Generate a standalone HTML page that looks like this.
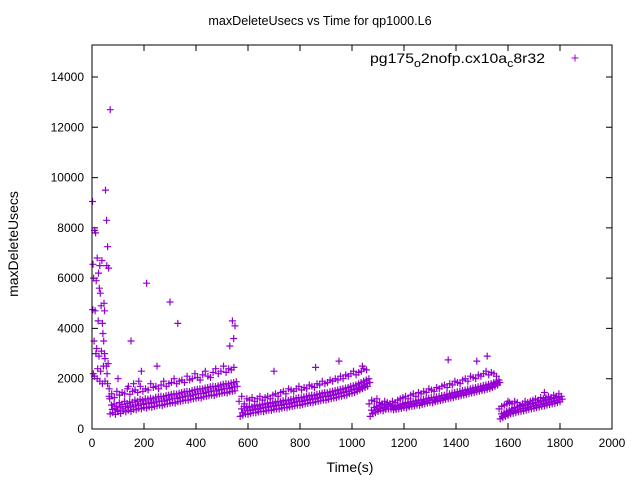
<!DOCTYPE html>
<html><head><meta charset="utf-8"><style>
body{margin:0;background:#fff}
svg text{font-family:"Liberation Sans",sans-serif;font-size:12px;fill:#000}
</style></head><body>
<svg id="chart" width="640" height="480">
<rect width="640" height="480" fill="#fff"/>
<text x="320" y="25" text-anchor="middle" style="font-size:12.6px">maxDeleteUsecs vs Time for qp1000.L6</text>
<text x="350" y="472" text-anchor="middle" style="font-size:14px">Time(s)</text>
<text transform="translate(18,244) rotate(-90)" text-anchor="middle" style="font-size:14px">maxDeleteUsecs</text>
<g id="axes"></g>
<g id="marks"></g>
<rect x="92" y="45" width="520" height="384" fill="none" stroke="#000" stroke-width="1"/>
<g>
<text x="370" y="63" style="font-size:14px" textLength="175" lengthAdjust="spacingAndGlyphs">pg175<tspan dy="4" style="font-size:11px">o</tspan><tspan dy="-4">2nofp.cx10a</tspan><tspan dy="4" style="font-size:11px">c</tspan><tspan dy="-4">8r32</tspan></text>
<path d="M571.5,58h7M575,54.5v7" stroke="#9400d3" stroke-width="1"/>
</g>
</svg>
<script>
const xTicks=[0,200,400,600,800,1000,1200,1400,1600,1800,2000];
const yTicks=[0,2000,4000,6000,8000,10000,12000,14000];
const seg1T=[];for(let t=70;t<=550;t+=10)seg1T.push(t);
const seg2T=[];for(let t=570;t<=1060;t+=10)seg2T.push(t);
const seg3T=[];for(let t=1070;t<=1560;t+=10)seg3T.push(t);
const seg4T=[];for(let t=1570;t<=1800;t+=10)seg4T.push(t);
const seg1Lo=[600,650,580,700,620,720,680,750,700,780,760,820,800,850,830,880,860,900,920,950,930,980,1000,1020,1050,1030,1080,1100,1120,1150,1140,1180,1200,1220,1250,1230,1280,1300,1320,1350,1330,1380,1400,1420,1450,1430,1480,1500,1520];
const seg1Q=[780,820,740,870,800,900,850,910,880,960,930,1000,980,1020,1010,1050,1030,1080,1100,1120,1110,1150,1180,1200,1220,1210,1250,1270,1300,1320,1310,1350,1380,1400,1420,1410,1450,1480,1500,1520,1510,1550,1570,1600,1620,1610,1650,1680,1700];
const seg1Mid=[950,1000,900,1050,980,1100,1020,1080,1060,1150,1100,1180,1150,1200,1190,1230,1200,1260,1280,1300,1290,1330,1350,1380,1400,1390,1420,1450,1480,1500,1490,1530,1560,1580,1600,1590,1630,1650,1680,1700,1690,1720,1750,1780,1800,1790,1830,1850,1880];
const seg1Hi=[1300,1400,1250,1500,1350,1450,1400,1600,1380,1500,1550,1450,1700,1500,1600,1550,1800,1650,1700,1600,1750,1900,1700,1800,1850,2000,1800,1900,1950,1850,2100,1950,2000,2200,2050,1950,2150,2300,2100,2050,2250,2400,2200,2300,2500,2250,2400,2350,2450];
const seg2Lo=[500,550,600,580,620,650,640,680,700,690,720,750,740,780,800,790,830,850,840,880,900,920,950,940,980,1000,1020,1050,1040,1080,1100,1120,1150,1140,1180,1200,1230,1250,1280,1300,1330,1350,1400,1420,1450,1500,1550,1600,1650,1700];
const seg2Q=[650,720,730,740,750,800,780,820,840,850,870,900,890,930,950,940,980,1000,990,1030,1050,1080,1100,1090,1130,1150,1170,1200,1190,1230,1250,1280,1300,1290,1330,1350,1380,1400,1430,1450,1480,1500,1550,1570,1600,1650,1700,1750,1800,1850];
const seg2Mid=[800,900,850,900,880,950,920,960,980,1000,1020,1050,1030,1080,1100,1090,1130,1150,1140,1180,1200,1230,1250,1240,1280,1300,1330,1350,1340,1380,1400,1430,1450,1440,1480,1500,1530,1550,1580,1600,1630,1650,1700,1720,1750,1800,1850,1900,1950,2000];
const seg2Hi=[1100,1300,1000,1200,1150,1250,1100,1200,1300,1150,1250,1300,1200,1350,1400,1300,1450,1500,1400,1600,1550,1500,1600,1700,1550,1650,1600,1750,1700,1650,1800,1750,1900,1800,1850,1950,1900,2000,1950,2100,2000,2150,2100,2200,2300,2150,2250,2300,2400,2350];
const seg3Lo=[500,600,650,700,750,720,780,800,790,760,780,800,820,850,840,880,900,920,950,940,980,1000,1030,1050,1040,1080,1100,1130,1150,1180,1200,1230,1250,1280,1300,1330,1350,1380,1400,1430,1450,1480,1500,1530,1550,1580,1600,1650,1700,1750];
const seg3Q=[620,720,780,820,870,840,880,900,870,830,870,890,910,950,930,980,1000,1020,1050,1040,1080,1100,1130,1150,1140,1180,1200,1230,1250,1280,1300,1330,1350,1380,1400,1430,1450,1480,1500,1530,1550,1580,1600,1630,1650,1680,1700,1750,1800,1850];
const seg3Mid=[750,850,900,950,1000,950,980,1000,950,900,950,980,1000,1050,1020,1080,1100,1120,1150,1140,1180,1200,1230,1250,1240,1280,1300,1330,1350,1380,1400,1430,1450,1480,1500,1530,1550,1580,1600,1630,1650,1680,1700,1730,1750,1780,1800,1850,1900,1950];
const seg3Hi=[1000,1150,1100,1200,1050,1000,1100,1050,1000,1100,1050,1150,1200,1250,1300,1200,1350,1400,1300,1450,1400,1500,1450,1600,1550,1500,1650,1600,1700,1750,1650,1800,1750,1900,1850,1800,1950,2000,1900,2100,2050,2000,2150,2100,2200,2300,2150,2250,2200,2100];
const seg4Lo=[400,450,500,550,600,620,650,680,700,720,750,780,800,820,850,870,900,920,950,970,1000,1020,1050,1080];
const seg4Q=[500,550,600,650,700,730,760,790,810,830,860,890,910,930,960,980,1010,1030,1060,1080,1110,1130,1160,1190];
const seg4Mid=[600,650,700,750,800,850,880,900,920,950,980,1000,1020,1050,1070,1100,1120,1150,1170,1200,1220,1250,1270,1300];
const seg4Hi=[800,900,950,1000,1050,1000,1100,1050,950,1000,1100,1050,1100,1150,1200,1150,1250,1200,1250,1300,1250,1350,1300,1400];
const outT=[2,10,14,4,6,3,12,8,15,20,25,30,32,35,40,42,45,48,50,55,58,62,52,56,60,64,57,46,38,5,10,20,30,40,50,60,22,33,44,66,68,70,18,27,36,24,48,28,16,150,210,300,330,540,550,545,530,100,190,250,700,860,950,1040,1370,1480,1520,1740,1600,180,140,160];
const outV=[9050,7900,7800,6550,6000,4750,4700,3500,3000,6800,6200,6500,5400,4900,4200,3800,3500,3000,2800,2500,2200,2600,9500,8300,7250,6400,6500,5000,6700,2200,2100,2000,1900,1800,1900,1800,2400,2300,2500,1600,1200,12700,3200,2900,3100,4300,4700,5600,5900,3500,5800,5050,4200,4300,4100,3600,3300,2000,2300,2500,2300,2450,2700,2500,2750,2700,2900,1450,1100,1900,1700,1800];

const X0=92,X1=612,Y0=429,Y1=45;
const xs=t=>X0+t*(X1-X0)/2000;
const ys=v=>Y0-v*(Y0-77)/14000;
const NS="http://www.w3.org/2000/svg";
const axes=document.getElementById('axes');
xTicks.forEach(t=>{
  const x=xs(t);
  const p=document.createElementNS(NS,'path');
  p.setAttribute('d',`M${x},${Y0}v-6M${x},${Y1}v6`);
  p.setAttribute('stroke','#000');
  
  
  axes.appendChild(p);
  const tx=document.createElementNS(NS,'text');
  tx.setAttribute('x',x);tx.setAttribute('y',Y0+18);tx.setAttribute('text-anchor','middle');
  tx.textContent=t;
  
  
  axes.appendChild(tx);
});
yTicks.forEach(v=>{
  const y=ys(v);
  const p=document.createElementNS(NS,'path');
  p.setAttribute('d',`M${X0},${y}h6M${X1},${y}h-6`);
  p.setAttribute('stroke','#000');
  
  
  axes.appendChild(p);
  const tx=document.createElementNS(NS,'text');
  tx.setAttribute('x',X0-8);tx.setAttribute('y',y+4);tx.setAttribute('text-anchor','end');
  tx.textContent=v;
  
  
  axes.appendChild(tx);
});
let d='';
function add(T,V,dx){for(let i=0;i<T.length&&i<V.length;i++){const x=xs(T[i])+dx,y=ys(V[i]);d+=`M${(x-3.5).toFixed(1)},${y.toFixed(1)}h7M${x.toFixed(1)},${(y-3.5).toFixed(1)}v7`;}}
[[seg1T,seg1Lo,0],[seg1T,seg1Q,2.2],[seg1T,seg1Mid,1.3],[seg1T,seg1Hi,-1.1],
 [seg2T,seg2Lo,0],[seg2T,seg2Q,2.2],[seg2T,seg2Mid,1.3],[seg2T,seg2Hi,-1.1],
 [seg3T,seg3Lo,0],[seg3T,seg3Q,2.2],[seg3T,seg3Mid,1.3],[seg3T,seg3Hi,-1.1],
 [seg4T,seg4Lo,0],[seg4T,seg4Q,2.2],[seg4T,seg4Mid,1.3],[seg4T,seg4Hi,-1.1],
 [outT,outV,0]].forEach(s=>add(s[0],s[1],s[2]));
const path=document.createElementNS(NS,'path');
path.setAttribute('d',d);
path.setAttribute('stroke','#9400d3');
path.setAttribute('stroke-width','1.2');


document.getElementById('marks').appendChild(path);
</script>
</body></html>
